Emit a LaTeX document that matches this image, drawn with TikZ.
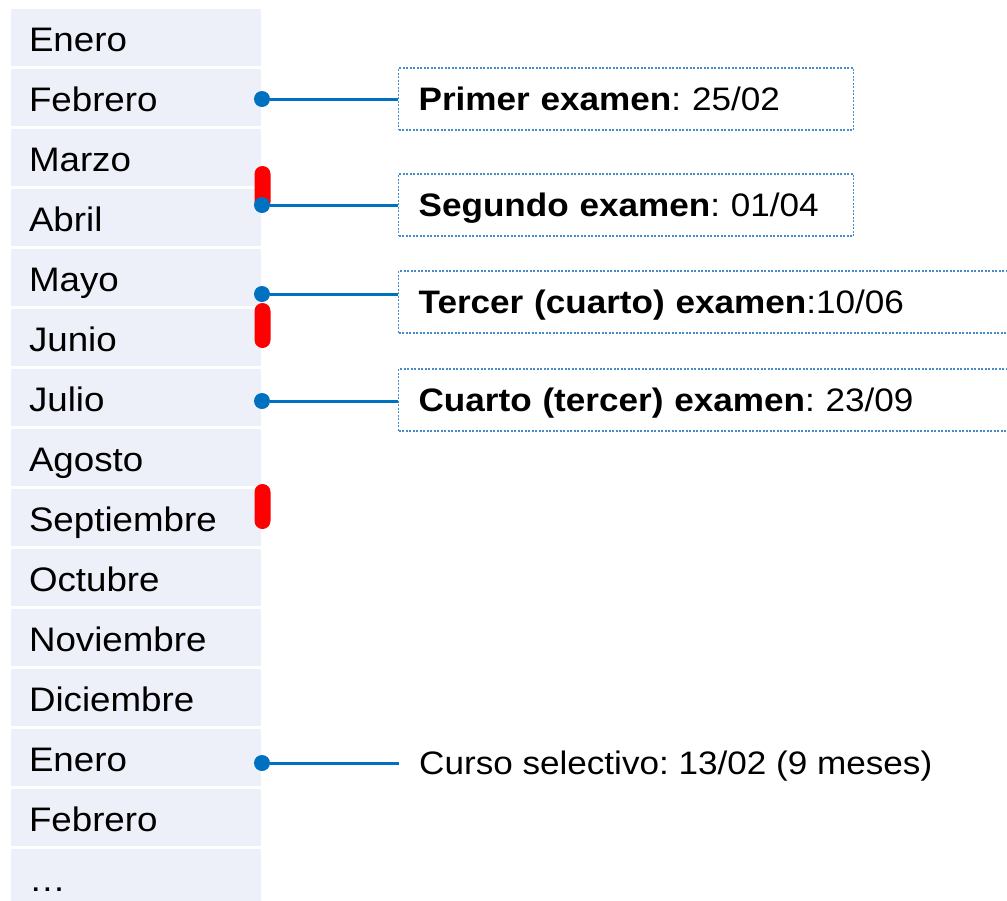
\documentclass[tikz,border=0pt]{standalone}
\usepackage{fontspec}
\setmainfont[FakeStretch=1.08]{Liberation Sans}
\usepackage{tikz}
\definecolor{monthfill}{RGB}{237,240,248}
\definecolor{linkblue}{RGB}{0,112,192}
\definecolor{boxblue}{RGB}{70,140,205}

\begin{document}
\frenchspacing
\begin{tikzpicture}[x=1pt,y=-1pt]
			\useasboundingbox (0,0) rectangle (1007,900);
			\tikzstyle{every node} = [font=\fontsize{32.5}{38}\selectfont];
			\tikzstyle{month} = [rectangle,fill=monthfill,font=\fontsize{34}{40}\selectfont,minimum width=250,minimum height=57,inner xsep=18,inner ysep=0,text width=214,align=left,text height=30,text depth=3];
			\tikzstyle{exam} = [rectangle,draw=boxblue,line width=1.3,dash pattern=on 2 off 1.5,anchor=west,minimum height=62,inner xsep=20,inner ysep=0,align=left,text height=25,text depth=3];
			\tikzstyle{dot} = [circle,fill=linkblue,minimum size=16,inner sep=0];
			\tikzstyle{redbar} = [rectangle,fill=red,rounded corners=8,minimum width=16,inner sep=0];
			\tikzstyle{link} = [draw=linkblue,line width=3];
			% months
			\node[month] (m1) at (136, 37.5) {Enero};
			\node[month] (m2) at (136, 97.5) {Febrero};
			\node[month] (m3) at (136,157.5) {Marzo};
			\node[month] (m4) at (136,217.5) {Abril};
			\node[month] (m5) at (136,277.5) {Mayo};
			\node[month] (m6) at (136,337.5) {Junio};
			\node[month] (m7) at (136,397.5) {Julio};
			\node[month] (m8) at (136,457.5) {Agosto};
			\node[month] (m9) at (136,517.5) {Septiembre};
			\node[month] (m10) at (136,577.5) {Octubre};
			\node[month] (m11) at (136,637.5) {Noviembre};
			\node[month] (m12) at (136,697.5) {Diciembre};
			\node[month] (m13) at (136,757.5) {Enero};
			\node[month] (m14) at (136,817.5) {Febrero};
			\node[month] (m15) at (136,877.5) {…};
			% red bars
			\node[redbar,minimum height=44] (bar1) at (262.5,188) {};
			\node[redbar,minimum height=45] (bar2) at (262.5,325.5) {};
			\node[redbar,minimum height=45] (bar3) at (262.5,506.5) {};
			% exams
			\node[exam,text width=415] (ex1) at (398,99) {\textbf{Primer examen}: 25/02};
			\node[exam,text width=415] (ex2) at (398,205) {\textbf{Segundo examen}: 01/04};
			\node[exam,text width=580] (ex3) at (398,302) {\textbf{Tercer (cuarto) examen}:10/06};
			\node[exam,text width=580] (ex4) at (398,400) {\textbf{Cuarto (tercer) examen}: 23/09};
			\node[anchor=west,inner xsep=20,inner ysep=0,text height=25,text depth=3] (curso) at (399,763) {Curso selectivo: 13/02 (9 meses)};
			% dots and links
			\node[dot] (d1) at (262,99) {};
			\node[dot] (d2) at (262,205) {};
			\node[dot] (d3) at (262,294) {};
			\node[dot] (d4) at (262,401) {};
			\node[dot] (d5) at (262,763) {};
			\draw[link] (d1) -- (d1 -| ex1.west);
			\draw[link] (d2) -- (d2 -| ex2.west);
			\draw[link] (d3) -- (d3 -| ex3.west);
			\draw[link] (d4) -- (d4 -| ex4.west);
			\draw[link] (d5) -- (d5 -| curso.west);
		\end{tikzpicture}
\end{document}
